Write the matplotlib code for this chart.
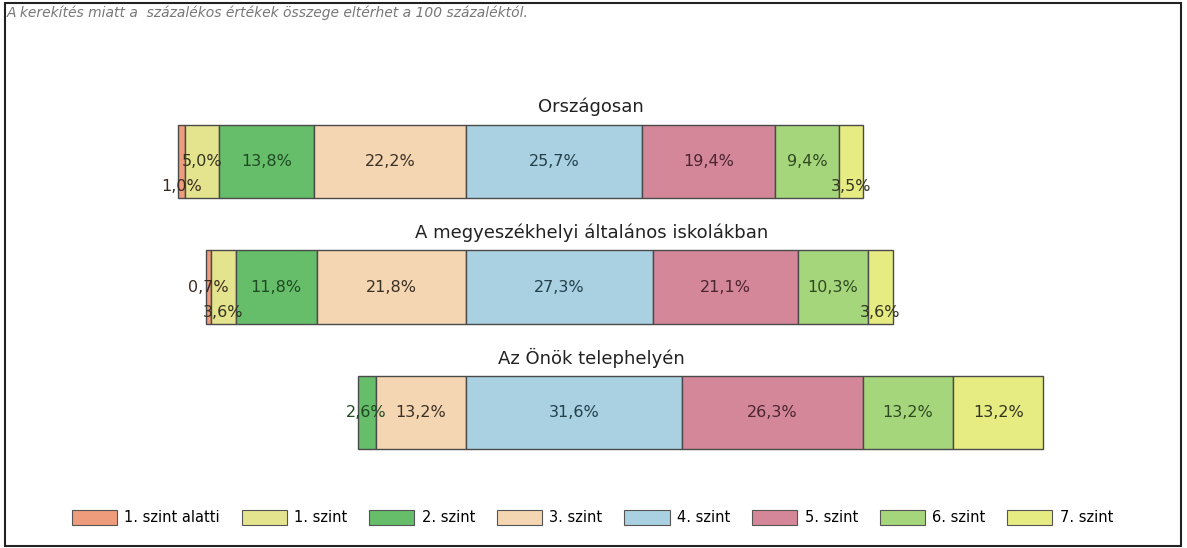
import matplotlib.pyplot as plt
from matplotlib.patches import Rectangle

# data
groups = ['Országosan', 'A megyeszékhelyi általános iskolákban', 'Az Önök telephelyén']
levels = ['1. szint alatti', '1. szint', '2. szint', '3. szint',
          '4. szint', '5. szint', '6. szint', '7. szint']
orszagos = [1.0, 5.0, 13.8, 22.2, 25.7, 19.4, 9.4, 3.5]
megye = [0.7, 3.6, 11.8, 21.8, 27.3, 21.1, 10.3, 3.6]
telephely = [0.0, 0.0, 2.6, 13.2, 31.6, 26.3, 13.2, 13.2]
values = [orszagos, megye, telephely]

colors = ['#ee9c7c', '#e4e48e', '#66bd6a', '#f5d6b2',
          '#a9d1e1', '#d48799', '#a6d67c', '#e6eb82']
txt_colors = ['#3a2a22', '#333322', '#1f4a22', '#3a3026',
              '#23404a', '#4a2530', '#2f4a22', '#333322']
# labels that sit at the lower edge of the bar (row, segment)
low_labels = {(0, 0), (0, 7), (1, 1), (1, 7)}

fig = plt.figure(figsize=(11.87, 5.48), dpi=100)
ax = fig.add_axes([0, 0, 1, 1])
px = 6.85
ax.set_xlim(-466 / px, (1187 - 466) / px)
ax.set_ylim((548 - 161.5) / 125.5, -161.5 / 125.5)
ax.axis('off')

bar_h = 0.585
for i, vals in enumerate(values):
    left = -sum(vals[:4])
    for j, v in enumerate(vals):
        if v > 0:
            ax.barh(i, v, left=left, height=bar_h, color=colors[j],
                    edgecolor='#4a4a4a', linewidth=1)
            ytxt = i + 0.2 if (i, j) in low_labels else i
            ax.text(left + v / 2, ytxt, f'{v:.1f}%'.replace('.', ','),
                    ha='center', va='center', fontsize=11.5, color=txt_colors[j])
        left += v
    ax.text(18.3, i - 0.435, groups[i], ha='center', va='center',
            fontsize=13, color='#222222')

handles = [Rectangle((0, 0), 1, 1, facecolor=c, edgecolor='#555555', linewidth=0.8)
           for c in colors]
fig.legend(handles, levels, loc='center', bbox_to_anchor=(0.499, 0.055), ncol=8,
           frameon=False, fontsize=10.5, handlelength=3.1, handleheight=1.15,
           columnspacing=1.5, handletextpad=0.5)

fig.text(0.006, 0.976, 'A kerekítés miatt a  százalékos értékek összege eltérhet a 100 százaléktól.',
         fontsize=10, style='italic', color='#777777', ha='left', va='center')

fig.patches.append(Rectangle((0.004, 0.003), 0.991, 0.992, transform=fig.transFigure,
                             fill=False, edgecolor='#222222', linewidth=1.5))

fig.savefig('out.png', dpi=100)
